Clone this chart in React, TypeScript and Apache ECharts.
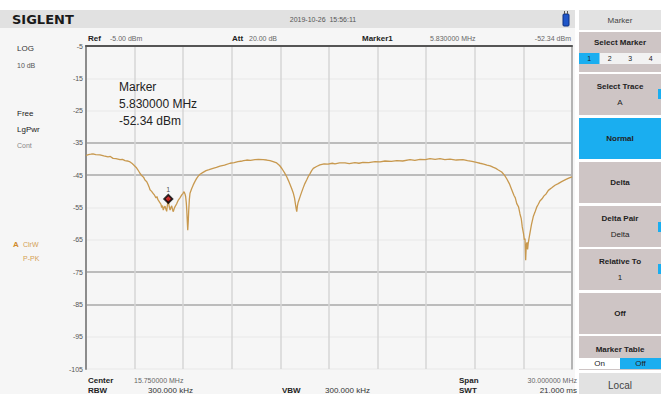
import React, { useEffect, useRef } from "react";
import * as echarts from "echarts";

// ---- Instrument settings ----
const startFreqMHz = 0.75;
const spanMHz = 30;
const refLevelDbm = -5;
const dbPerDiv = 10;
const divisions = 10;

const freqMHz = [
  0.75, 0.9, 1.05, 1.18, 1.35, 1.61, 1.85, 2.11, 2.25, 2.42, 2.6, 2.85, 3.0, 3.16, 3.3, 3.47, 3.6, 3.71, 3.85, 3.96,
  4.08, 4.2, 4.3, 4.39, 4.5, 4.58, 4.65, 4.7, 4.8, 4.89, 4.98, 5.07, 5.13, 5.19, 5.26, 5.32, 5.38, 5.42, 5.47, 5.52,
  5.58, 5.63, 5.68, 5.73, 5.78, 5.83, 5.88, 5.94, 5.99, 6.04, 6.09, 6.14, 6.19, 6.24, 6.34, 6.45, 6.55, 6.66, 6.74, 6.8,
  6.86, 6.9, 6.94, 6.97, 7.0, 7.03, 7.06, 7.09, 7.13, 7.17, 7.27, 7.37, 7.47, 7.58, 7.68, 7.79, 7.95, 8.16, 8.35, 8.59,
  8.8, 9.02, 9.3, 9.64, 9.9, 10.13, 10.4, 10.67, 10.9, 11.18, 11.4, 11.68, 11.9, 12.11, 12.3, 12.52, 12.7, 12.85, 13.0, 13.14,
  13.24, 13.34, 13.45, 13.55, 13.62, 13.68, 13.72, 13.76, 13.8, 13.84, 13.9, 13.96, 14.05, 14.15, 14.26, 14.37, 14.47, 14.58, 14.68, 14.78,
  14.98, 15.19, 15.45, 15.69, 15.95, 16.12, 16.4, 16.74, 17.0, 17.35, 17.6, 17.85, 18.2, 18.59, 18.9, 19.21, 19.6, 19.93, 20.3, 20.75,
  21.05, 21.37, 21.7, 21.98, 22.3, 22.6, 22.9, 23.22, 23.6, 24.02, 24.3, 24.58, 24.85, 25.07, 25.3, 25.5, 25.7, 25.87, 26.05, 26.18,
  26.41, 26.58, 26.72, 26.88, 27.03, 27.17, 27.25, 27.34, 27.45, 27.54, 27.62, 27.68, 27.76, 27.81, 27.85, 27.89, 27.93, 27.97, 28.01, 28.05,
  28.1, 28.16, 28.25, 28.36, 28.46, 28.57, 28.67, 28.77, 28.9, 29.02, 29.15, 29.29, 29.5, 29.7, 29.9, 30.11, 30.38, 30.55, 30.75,
];
const levelDbm = [
  -38.9, -38.6, -38.5, -38.4, -38.6, -38.7, -39.0, -39.3, -39.2, -39.8, -39.9, -40.2, -40.1, -40.5, -40.6, -40.9, -41.4, -41.9, -42.6, -43.4,
  -44.4, -45.2, -45.6, -46.5, -47.0, -47.9, -48.7, -49.5, -50.0, -50.6, -51.2, -52.0, -51.6, -52.6, -53.1, -53.6, -54.0, -55.0, -54.4, -55.8,
  -54.9, -54.6, -55.5, -56.2, -54.0, -52.34, -54.6, -55.8, -55.0, -54.5, -55.6, -56.3, -55.4, -54.8, -53.9, -52.7, -52.0, -51.1, -50.6, -50.1,
  -50.8, -51.6, -53.5, -55.8, -59.0, -62.0, -59.5, -56.0, -52.5, -50.6, -49.2, -48.0, -47.0, -46.0, -45.3, -44.7, -44.2, -43.6, -43.3, -42.9,
  -42.6, -42.2, -41.9, -41.3, -41.1, -40.8, -40.6, -40.3, -40.4, -40.2, -40.1, -40.2, -40.3, -40.5, -40.8, -41.2, -42.0, -43.0, -44.2, -45.5,
  -46.6, -47.8, -49.2, -50.6, -52.0, -54.0, -55.3, -56.3, -54.5, -53.5, -52.6, -51.7, -50.4, -49.0, -47.6, -46.5, -45.4, -44.5, -43.6, -42.9,
  -42.3, -41.8, -41.5, -41.6, -41.3, -41.5, -41.2, -41.2, -41.4, -41.1, -41.3, -41.0, -41.1, -40.8, -40.9, -40.6, -40.7, -40.5, -40.6, -40.2,
  -40.4, -40.1, -40.2, -39.9, -40.1, -39.9, -40.2, -40.0, -40.3, -40.2, -40.5, -40.7, -41.0, -41.3, -41.6, -41.9, -42.1, -42.5, -42.9, -43.3,
  -44.0, -45.0, -46.1, -47.6, -49.5, -51.3, -52.0, -53.8, -54.8, -57.0, -58.5, -61.0, -63.2, -65.0, -64.6, -71.3, -66.5, -65.8, -68.0, -66.0,
  -64.5, -62.8, -60.2, -57.8, -56.5, -54.9, -54.0, -53.0, -52.3, -51.4, -50.8, -49.7, -48.9, -48.1, -47.6, -47.0, -46.3, -45.9, -45.5,
];

// ---- Marker 1 ----
const markerFreqMHz = 5.83;
const markerLevelDbm = -52.34;

// ---- Readouts ----
const headerTexts = {
  date: "2019-10-26  15:56:11",
  ref: "-5.00 dBm",
  att: "20.00 dB",
  markerFreq: "5.830000 MHz",
  markerLevel: "-52.34 dBm",
  center: "15.750000 MHz",
  span: "30.000000 MHz",
  rbw: "300.000 kHz",
  vbw: "300.000 kHz",
  swt: "21.000 ms",
};
const softKeys = [
  { title: "Select Trace", value: "A" },
  { title: "Normal", value: "" },
  { title: "Delta", value: "" },
  { title: "Delta Pair", value: "Delta" },
  { title: "Relative To", value: "1" },
  { title: "Off", value: "" },
];
const markerTabs = ["1", "2", "3", "4"];

const FONT = "Liberation Sans, Arial, sans-serif";
const BLUE = "#1aaef0";
const TAUPE = "#cec5c5";

function txt(x: number, y: number, text: string, o: any = {}) {
  const align = o.align || "left";
  return {
    type: "text",
    x,
    y,
    z: 50,
    silent: true,
    style: {
      text,
      fontSize: o.size || 8,
      fontWeight: o.bold ? "bold" : "normal",
      fontFamily: o.family || FONT,
      fill: o.color || "#333",
      align,
      textAlign: align,
      verticalAlign: "middle",
      textVerticalAlign: "middle",
    },
  };
}
function rect(x: number, y: number, w: number, h: number, fill: string, z = 1) {
  return { type: "rect", z, silent: true, shape: { x, y, width: w, height: h }, style: { fill } };
}

export default function App() {
  const ref = useRef<HTMLDivElement>(null);
  useEffect(() => {
    if (!ref.current) return;
    const chart = echarts.init(ref.current, undefined, { renderer: "svg" });
    const traceData = freqMHz.map((f, i) => [f - startFreqMHz, levelDbm[i] - refLevelDbm]);
    const yMin = -dbPerDiv * divisions;

    const px = 579;
    const pw = 82;
    const pc = px + pw / 2;
    const graphics: any[] = [];
    // backgrounds
    graphics.push(rect(0, 28, 575, 366, "#f6f6f6", 0));
    graphics.push(rect(0, 10, 575, 18, "#e1e1e1", 0));
    // header
    graphics.push(txt(12, 19, "SIGLENT", { size: 13, bold: true, color: "#1a1a1a", family: "DejaVu Sans, sans-serif" }));
    graphics.push(txt(323, 19, headerTexts.date, { size: 7, color: "#555", align: "center" }));
    graphics.push({ type: "rect", z: 50, shape: { x: 563, y: 14, width: 6, height: 12, r: 1 }, style: { fill: "#1f55c8", stroke: "#0d2f80", lineWidth: 1 } });
    graphics.push(rect(564, 11, 1, 3, "#555", 50));
    graphics.push(rect(567, 11, 1, 3, "#555", 50));
    // second row
    graphics.push(txt(88, 38, "Ref", { bold: true, color: "#222" }));
    graphics.push(txt(110, 38, headerTexts.ref, { size: 7, color: "#666" }));
    graphics.push(txt(232, 38, "Att", { bold: true, color: "#222" }));
    graphics.push(txt(249, 38, headerTexts.att, { size: 7, color: "#666" }));
    graphics.push(txt(362, 38, "Marker1", { bold: true, color: "#222" }));
    graphics.push(txt(430, 38, headerTexts.markerFreq, { size: 7, color: "#666" }));
    graphics.push(txt(571, 38, headerTexts.markerLevel, { size: 7, color: "#666", align: "right" }));
    // left column
    graphics.push(txt(17, 48, "LOG", { color: "#333" }));
    graphics.push(txt(17, 65, "10 dB", { size: 7, color: "#555" }));
    graphics.push(txt(17, 113, "Free", { color: "#222" }));
    graphics.push(txt(17, 129, "LgPwr", { color: "#222" }));
    graphics.push(txt(17, 145, "Cont", { size: 7, color: "#888" }));
    graphics.push(txt(13, 244, "A", { bold: true, color: "#d08a2a" }));
    graphics.push(txt(23, 244, "ClrW", { size: 7, color: "#d4a055" }));
    graphics.push(txt(23, 258, "P-PK", { size: 7, color: "#d4a055" }));
    // plot readout
    graphics.push(txt(119, 87, "Marker", { size: 12, color: "#222" }));
    graphics.push(txt(119, 104, "5.830000 MHz", { size: 12, color: "#222" }));
    graphics.push(txt(119, 121, "-52.34 dBm", { size: 12, color: "#222" }));
    // bottom readout
    graphics.push(txt(88, 380, "Center", { bold: true, color: "#222" }));
    graphics.push(txt(134, 380, headerTexts.center, { size: 7, color: "#666" }));
    graphics.push(txt(459, 380, "Span", { bold: true, color: "#222" }));
    graphics.push(txt(577, 380, headerTexts.span, { size: 7, color: "#666", align: "right" }));
    graphics.push(txt(88, 390, "RBW", { bold: true, color: "#222" }));
    graphics.push(txt(148, 390, headerTexts.rbw, { color: "#333" }));
    graphics.push(txt(282, 390, "VBW", { bold: true, color: "#222" }));
    graphics.push(txt(325, 390, headerTexts.vbw, { color: "#333" }));
    graphics.push(txt(459, 390, "SWT", { bold: true, color: "#222" }));
    graphics.push(txt(577, 390, headerTexts.swt, { color: "#333", align: "right" }));
    // right panel
    graphics.push(rect(px, 10, pw, 20, "#e2e2e2"));
    graphics.push(txt(pc, 20, "Marker", { size: 8, color: "#444", align: "center" }));
    graphics.push(rect(px, 32, pw, 40, TAUPE));
    graphics.push(txt(pc, 42, "Select Marker", { bold: true, color: "#222", align: "center" }));
    graphics.push(rect(px, 53, pw, 11, "#f2f2f2"));
    const tabW = pw / markerTabs.length;
    markerTabs.forEach((t, i) => {
      if (i === 0) graphics.push(rect(px, 53, tabW, 11, BLUE, 2));
      graphics.push(txt(px + tabW * (i + 0.5), 58.5, t, { size: 7, color: "#222", align: "center" }));
    });
    const keyTops = [74, 118, 162, 206, 249, 293];
    softKeys.forEach((k, i) => {
      const top = keyTops[i];
      const h = 41;
      graphics.push(rect(px, top, pw, h, k.title === "Normal" ? BLUE : TAUPE));
      if (k.value) {
        graphics.push(txt(pc, top + 12, k.title, { bold: true, color: "#222", align: "center" }));
        graphics.push(txt(pc, top + 28, k.value, { color: "#222", align: "center" }));
      } else {
        graphics.push(txt(pc, top + 20, k.title, { bold: true, color: "#222", align: "center" }));
      }
    });
    graphics.push(rect(658, 89, 3, 10, BLUE, 3));
    graphics.push(rect(658, 222, 3, 10, BLUE, 3));
    graphics.push(rect(658, 264, 3, 10, BLUE, 3));
    graphics.push(rect(px, 336, pw, 34, TAUPE));
    graphics.push(txt(pc, 349, "Marker Table", { bold: true, color: "#222", align: "center" }));
    graphics.push(rect(px, 358, pw / 2, 11, "#ffffff", 2));
    graphics.push(rect(px + pw / 2, 358, pw / 2, 11, BLUE, 2));
    graphics.push(txt(px + pw / 4, 363.5, "On", { color: "#222", align: "center" }));
    graphics.push(txt(px + (3 * pw) / 4, 363.5, "Off", { color: "#222", align: "center" }));
    graphics.push(rect(px, 373, pw, 21, "#e2e2e2"));
    graphics.push(txt(pc, 385, "Local", { size: 10, color: "#444", align: "center" }));

    const hLineColors = Array.from({ length: divisions + 1 }, (_, i) =>
      [2, 3, 6, 7].includes(i) ? "#a9a9a9" : "#ececec"
    );

    chart.setOption({
      animation: false,
      backgroundColor: "#ffffff",
      grid: { left: 86, right: 89, top: 46, bottom: 25, show: false },
      xAxis: {
        type: "value",
        position: "top",
        min: 0,
        max: spanMHz,
        interval: spanMHz / divisions,
        axisLine: { show: true, lineStyle: { color: "#555", width: 2 } },
        axisTick: { show: false },
        axisLabel: { show: false },
        splitLine: { show: true, lineStyle: { color: "#d6d6d6", width: 1.5 } },
      },
      yAxis: [
        {
          type: "value",
          min: yMin,
          max: 0,
          interval: dbPerDiv,
          axisLine: { show: true, onZero: false, lineStyle: { color: "#8c8c8c", width: 2 } },
          axisTick: { show: false },
          axisLabel: {
            show: true,
            margin: 3,
            fontSize: 7,
            color: "#555",
            fontFamily: FONT,
            formatter: (v: number) => String(v + refLevelDbm),
          },
          splitLine: { show: true, lineStyle: { color: hLineColors, width: 1.5 } },
        },
        {
          type: "value",
          position: "right",
          min: yMin,
          max: 0,
          interval: dbPerDiv,
          axisLine: { show: true, onZero: false, lineStyle: { color: "#a6a6a6", width: 1.5 } },
          axisTick: { show: false },
          axisLabel: { show: false },
          splitLine: { show: false },
        },
      ],
      graphic: graphics,
      series: [
        {
          type: "line",
          data: traceData,
          showSymbol: false,
          symbol: "none",
          lineStyle: { color: "#c8994f", width: 1.3 },
          z: 5,
        },
        {
          type: "scatter",
          data: [[markerFreqMHz - startFreqMHz, markerLevelDbm - refLevelDbm]],
          symbol: "diamond",
          symbolSize: 8,
          itemStyle: { color: "#c00000", borderColor: "#000", borderWidth: 2 },
          label: { show: true, position: "top", distance: 1, formatter: "1", fontSize: 7, color: "#222" },
          z: 10,
        },
      ],
    });
    return () => chart.dispose();
  }, []);
  return (
    <div
      ref={ref}
      style={{ position: "fixed", left: 0, top: 0, width: 661, height: 394 }}
    />
  );
}
